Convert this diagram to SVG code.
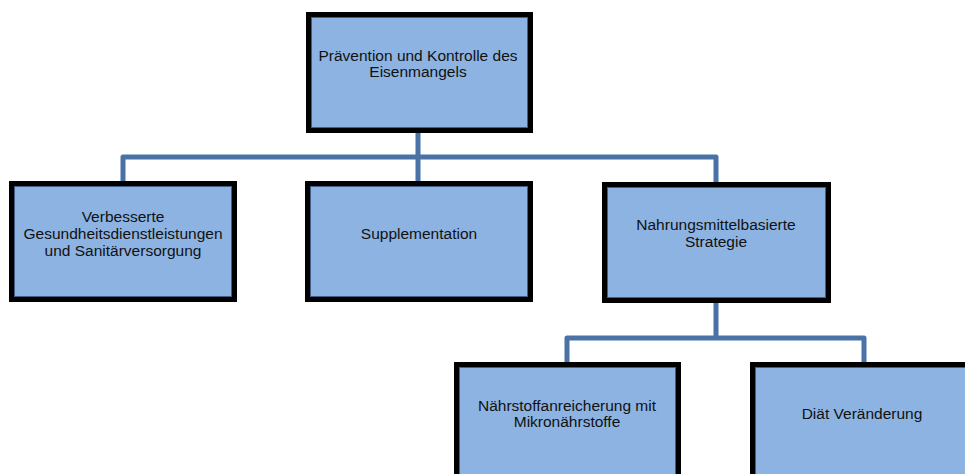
<svg xmlns="http://www.w3.org/2000/svg" width="965" height="474" viewBox="0 0 965 474">
<style>
.box{fill:#8DB3E2;stroke:#000;stroke-width:5}
.inner{fill:none;stroke:#3F5F8A;stroke-width:1}
.t{font-family:"Liberation Sans",Arial,sans-serif;font-size:15.5px;fill:#111;text-anchor:middle}
.c{fill:none;stroke:#4A72A6;stroke-width:5;stroke-linejoin:round}
</style>
<rect width="965" height="474" fill="#fff"/>
<g id="connectors">
<path class="c" d="M418,133 V182 M123,182 V157 H716 V182"/>
<path class="c" d="M716,303 V338 M567,362 V338 H864 V362"/>
</g>
<g id="n0">
<rect class="box" x="308.5" y="14.5" width="222" height="116"/>
<rect class="inner" x="311.5" y="17.5" width="216" height="110"/>
<text class="t" x="418" y="61">Prävention und Kontrolle des</text>
<text class="t" x="418" y="77">Eisenmangels</text>
</g>
<g id="n1">
<rect class="box" x="11.5" y="183.5" width="223" height="116"/>
<rect class="inner" x="14.5" y="186.5" width="217" height="110"/>
<text class="t" x="123" y="222">Verbesserte</text>
<text class="t" x="123" y="239">Gesundheitsdienstleistungen</text>
<text class="t" x="123" y="256">und Sanitärversorgung</text>
</g>
<g id="n2">
<rect class="box" x="307.5" y="183.5" width="223" height="116"/>
<rect class="inner" x="310.5" y="186.5" width="217" height="110"/>
<text class="t" x="419" y="239">Supplementation</text>
</g>
<g id="n3">
<rect class="box" x="604.5" y="184.5" width="224" height="116"/>
<rect class="inner" x="607.5" y="187.5" width="218" height="110"/>
<text class="t" x="716" y="230">Nahrungsmittelbasierte</text>
<text class="t" x="716" y="247">Strategie</text>
</g>
<g id="n4">
<rect class="box" x="456.5" y="364.5" width="222" height="116"/>
<rect class="inner" x="459.5" y="367.5" width="216" height="110"/>
<text class="t" x="567" y="411">Nährstoffanreicherung mit</text>
<text class="t" x="567" y="427">Mikronährstoffe</text>
</g>
<g id="n5">
<rect class="box" x="752.5" y="364.5" width="222" height="116"/>
<rect class="inner" x="755.5" y="367.5" width="216" height="110"/>
<text class="t" x="862" y="419">Diät Veränderung</text>
</g>
</svg>
